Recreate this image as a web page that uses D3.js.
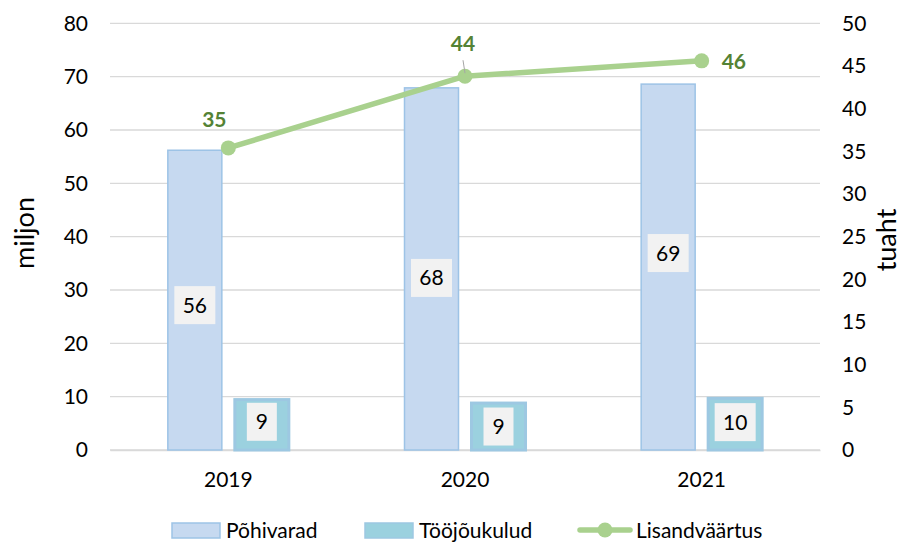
<!DOCTYPE html>
<html>
<head>
<meta charset="utf-8">
<script src="https://cdn.jsdelivr.net/npm/d3@7/dist/d3.min.js"></script>
<style>
  html, body { margin: 0; padding: 0; background: #fff; }
  svg { display: block; font-family: Lato, "Open Sans", sans-serif; }
</style>
</head>
<body>
<svg id="chart" width="924" height="544"></svg>
<script>
// Data
const years = ["2019", "2020", "2021"];
const pohivarad = [56.2, 67.9, 68.6];      // miljon
const toojoukulud = [9.45, 8.8, 9.7];       // miljon
const lisandvaartus = [35.4, 43.8, 45.6];   // tuaht
const leftTicks = [0, 10, 20, 30, 40, 50, 60, 70, 80];
const rightTicks = [0, 5, 10, 15, 20, 25, 30, 35, 40, 45, 50];
const seriesNames = ["Põhivarad", "Tööjõukulud", "Lisandväärtus"];

// Vertical nudges for the boxed bar labels (px from bar middle)
const pohiLabelShift = [5, 9, -14];
const tooLabelShift = [-3, 0, -2];

const colors = {
  pohiFill: "#C6D9F0", pohiStroke: "#9DC3E6",
  tooFill: "#9BD1DF", tooStroke: "#9DC8E2",
  line: "#A9D18E", lineLabel: "#548235",
  grid: "#D9D9D9", labelBox: "#F2F2F2"
};

const svg = d3.select("#chart");
const plot = { left: 110, right: 820, top: 23.3, bottom: 450 };

const x = d3.scaleBand().domain(years).range([plot.left, plot.right]);
const yL = d3.scaleLinear().domain([0, 80]).range([plot.bottom, plot.top]);
const yR = d3.scaleLinear().domain([0, 50]).range([plot.bottom, plot.top]);

const barW = 54, barGap = 13;
const fmt = d3.format(".0f");

// Gridlines
svg.append("g").selectAll("line").data(leftTicks).join("line")
  .attr("x1", plot.left).attr("x2", plot.right)
  .attr("y1", d => yL(d)).attr("y2", d => yL(d))
  .attr("stroke", colors.grid).attr("stroke-width", 1.3);

// Left axis
const axL = svg.append("g").attr("transform", `translate(${plot.left - 22},0)`)
  .call(d3.axisLeft(yL).tickValues(leftTicks).tickSize(0).tickPadding(0));
axL.select(".domain").remove();
axL.selectAll("text").attr("font-size", 21).attr("fill", "#000").attr("font-family", "Lato");

// Right axis
const axR = svg.append("g").attr("transform", `translate(${plot.right + 22},0)`)
  .call(d3.axisRight(yR).tickValues(rightTicks).tickSize(0).tickPadding(0));
axR.select(".domain").remove();
axR.selectAll("text").attr("font-size", 21).attr("fill", "#000").attr("font-family", "Lato");

// Bottom axis
const axB = svg.append("g").attr("transform", `translate(0,${plot.bottom})`)
  .call(d3.axisBottom(x).tickSize(0).tickPadding(22));
axB.select(".domain").attr("stroke", colors.grid).attr("stroke-width", 1.3);
axB.selectAll("text").attr("font-size", 21).attr("fill", "#000").attr("font-family", "Lato");

// Axis titles
svg.append("text").attr("transform", "translate(34,233) rotate(-90)")
  .attr("text-anchor", "middle").attr("font-size", 27).text("miljon");
svg.append("text").attr("transform", "translate(896,240) rotate(-90)")
  .attr("text-anchor", "middle").attr("font-size", 27).text("tuaht");

const cx = d => x(d) + x.bandwidth() / 2;

// Bars
const pohiX = d => cx(d) - barGap / 2 - barW;
const tooX = d => cx(d) + barGap / 2;

svg.append("g").selectAll("rect").data(years).join("rect")
  .attr("x", d => pohiX(d)).attr("width", barW)
  .attr("y", (d, i) => yL(pohivarad[i]))
  .attr("height", (d, i) => yL(0) - yL(pohivarad[i]))
  .attr("fill", colors.pohiFill).attr("stroke", colors.pohiStroke).attr("stroke-width", 1.5);

svg.append("g").selectAll("rect").data(years).join("rect")
  .attr("x", d => tooX(d)).attr("width", barW)
  .attr("y", (d, i) => yL(toojoukulud[i]))
  .attr("height", (d, i) => yL(0) - yL(toojoukulud[i]))
  .attr("fill", colors.tooFill).attr("stroke", colors.tooStroke).attr("stroke-width", 3);

// Boxed value labels
function boxLabel(g, cxp, cyp, txt) {
  const w = txt.length > 1 ? 41 : 30, h = 38;
  g.append("rect").attr("x", cxp - w / 2).attr("y", cyp - h / 2)
    .attr("width", w).attr("height", h).attr("fill", colors.labelBox);
  g.append("text").attr("x", cxp).attr("y", cyp).attr("dy", "0.36em")
    .attr("text-anchor", "middle").attr("font-size", 21).attr("fill", "#000").text(txt);
}
const labels = svg.append("g");
years.forEach((d, i) => {
  boxLabel(labels, pohiX(d) + barW / 2,
    (yL(pohivarad[i]) + yL(0)) / 2 + pohiLabelShift[i], fmt(pohivarad[i]));
  boxLabel(labels, tooX(d) + barW / 2,
    (yL(toojoukulud[i]) + yL(0)) / 2 + tooLabelShift[i], fmt(toojoukulud[i]));
});

// Line series
const line = d3.line().x((v, i) => cx(years[i])).y(v => yR(v));
svg.append("path").datum(lisandvaartus).attr("d", line)
  .attr("fill", "none").attr("stroke", colors.line).attr("stroke-width", 5.5)
  .attr("stroke-linejoin", "round").attr("stroke-linecap", "round");
svg.append("g").selectAll("circle").data(lisandvaartus).join("circle")
  .attr("cx", (v, i) => cx(years[i])).attr("cy", v => yR(v)).attr("r", 7.5)
  .attr("fill", colors.line);

// Line value labels
const lineLabelPos = [
  { dx: -14, dy: -28, anchor: "middle" },
  { dx: -2, dy: -33, anchor: "middle" },
  { dx: 20, dy: 1, anchor: "start" }
];
// leader line for the middle label
svg.append("line")
  .attr("x1", cx(years[1]) - 2).attr("y1", yR(lisandvaartus[1]) - 16)
  .attr("x2", cx(years[1])).attr("y2", yR(lisandvaartus[1]) - 3)
  .attr("stroke", "#A6A6A6").attr("stroke-width", 1);
svg.append("g").selectAll("text").data(lisandvaartus).join("text")
  .attr("x", (v, i) => cx(years[i]) + lineLabelPos[i].dx)
  .attr("y", (v, i) => yR(v) + lineLabelPos[i].dy)
  .attr("dy", "0.36em")
  .attr("text-anchor", (v, i) => lineLabelPos[i].anchor)
  .attr("font-size", 21).attr("font-weight", "bold").attr("fill", colors.lineLabel)
  .text(v => fmt(v));

// Legend
const legend = svg.append("g").attr("font-size", 21);
const ly = 530;
legend.append("rect").attr("x", 172).attr("y", ly - 7).attr("width", 48).attr("height", 15)
  .attr("fill", colors.pohiFill).attr("stroke", colors.pohiStroke).attr("stroke-width", 1.5);
legend.append("text").attr("x", 226).attr("y", ly).attr("dy", "0.36em").text(seriesNames[0]);
legend.append("rect").attr("x", 365).attr("y", ly - 7).attr("width", 48).attr("height", 15)
  .attr("fill", colors.tooFill).attr("stroke", colors.tooStroke).attr("stroke-width", 1.5);
legend.append("text").attr("x", 419).attr("y", ly).attr("dy", "0.36em").text(seriesNames[1]);
legend.append("line").attr("x1", 580).attr("x2", 630).attr("y1", ly).attr("y2", ly)
  .attr("stroke", colors.line).attr("stroke-width", 5.5).attr("stroke-linecap", "round");
legend.append("circle").attr("cx", 605).attr("cy", ly).attr("r", 7.5).attr("fill", colors.line);
legend.append("text").attr("x", 636).attr("y", ly).attr("dy", "0.36em").text(seriesNames[2]);
</script>
</body>
</html>
